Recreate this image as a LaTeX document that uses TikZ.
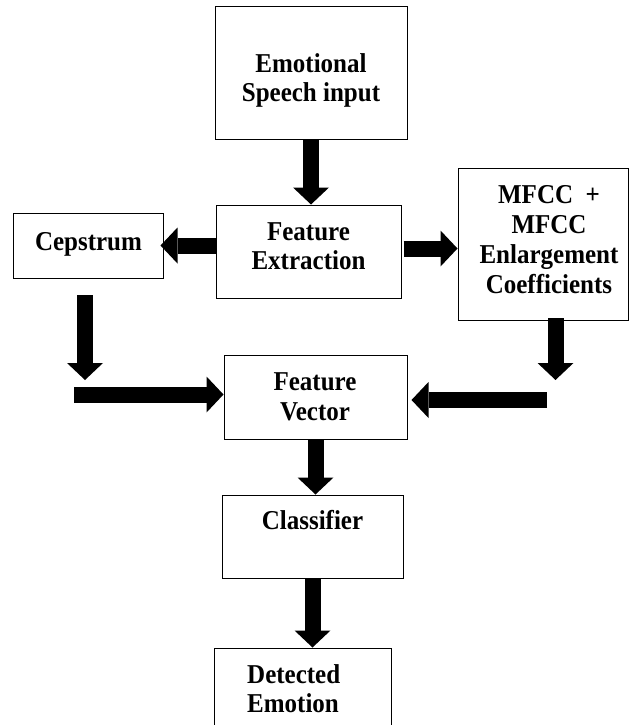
\documentclass[tikz,border=0pt]{standalone}
\usepackage{fontspec}
\setmainfont{Liberation Serif}
\usetikzlibrary{arrows.meta,calc}
\newcommand\stretchtext[2][c]{\scalebox{1}[1.09]{\begin{tabular}{@{}#1@{}}#2\end{tabular}}}
\begin{document}
\begin{tikzpicture}[x=1pt,y=-1pt,
  box/.style={draw=black,line width=1pt,inner sep=0pt},
  txt/.style={inner sep=0pt,font=\fontsize{25}{27.5}\selectfont\bfseries},
  fat/.style={line width=16pt,-{Triangle[length=17pt,width=36pt,line width=0pt]}}]
\useasboundingbox (0,0) rectangle (630,725);
\clip (0,0) rectangle (630,725);
\fill[white] (0,0) rectangle (630,725);

\node[box,minimum width=192pt,minimum height=132pt] (es) at (311,73) {};
\node[box,minimum width=185pt,minimum height=93pt] (fe) at (308.5,251.5) {};
\node[box,minimum width=150pt,minimum height=65pt] (cep) at (88,245.5) {};
\node[box,minimum width=170pt,minimum height=152pt] (mfcc) at (543,244) {};
\node[box,minimum width=183pt,minimum height=84pt] (fv) at (315.5,397) {};
\node[box,minimum width=181pt,minimum height=83pt] (cl) at (312.5,536.5) {};
\node[box,minimum width=177pt,minimum height=82pt] (de) at (302.5,689) {};

\node[txt] (est) at (311,81) {\stretchtext{Emotional\\Speech input}};
\node[txt] (fet) at (308.5,249) {\stretchtext{Feature\\Extraction}};
\node[txt] (cept) at (88.5,245) {\stretchtext{Cepstrum}};
\node[txt] (mfcct) at (549,242.5) {\stretchtext{MFCC\ \ +\\MFCC\\Enlargement\\Coefficients}};
\node[txt] (fvt) at (315,399.5) {\stretchtext{Feature\\Vector}};
\node[txt] (clt) at (312.5,523) {\stretchtext{Classifier}};
\node[txt,anchor=west] (det) at (247,692) {\stretchtext[l]{Detected\\Emotion}};

\coordinate (cd1) at (85,295);
\coordinate (cd2) at (85,380);
\coordinate (ch) at (74,394.5);
\coordinate (md1) at (555.5,318);
\coordinate (md2) at (555.5,380);
\coordinate (mh) at (547,400);

\draw[fat] (es.south) -- (es.south |- fe.north);
\draw[fat] (fe.west |- cep.east) -- ($(cep.east)+(-3,0)$);
\draw[fat] ($(fe.east)+(2,-3)$) -- ($(mfcc.west |- fe.east)+(0,-3)$);
\draw[fat] (cd1) -- (cd2);
\draw[fat] (ch) -- (ch -| fv.west);
\draw[fat] (md1) -- (md2);
\draw[fat] (mh) -- ($(mh -| fv.east)+(4,0)$);
\draw[fat] (fv.south) -- (fv.south |- cl.north);
\draw[fat] (cl.south) -- (cl.south |- de.north);
\end{tikzpicture}
\end{document}
